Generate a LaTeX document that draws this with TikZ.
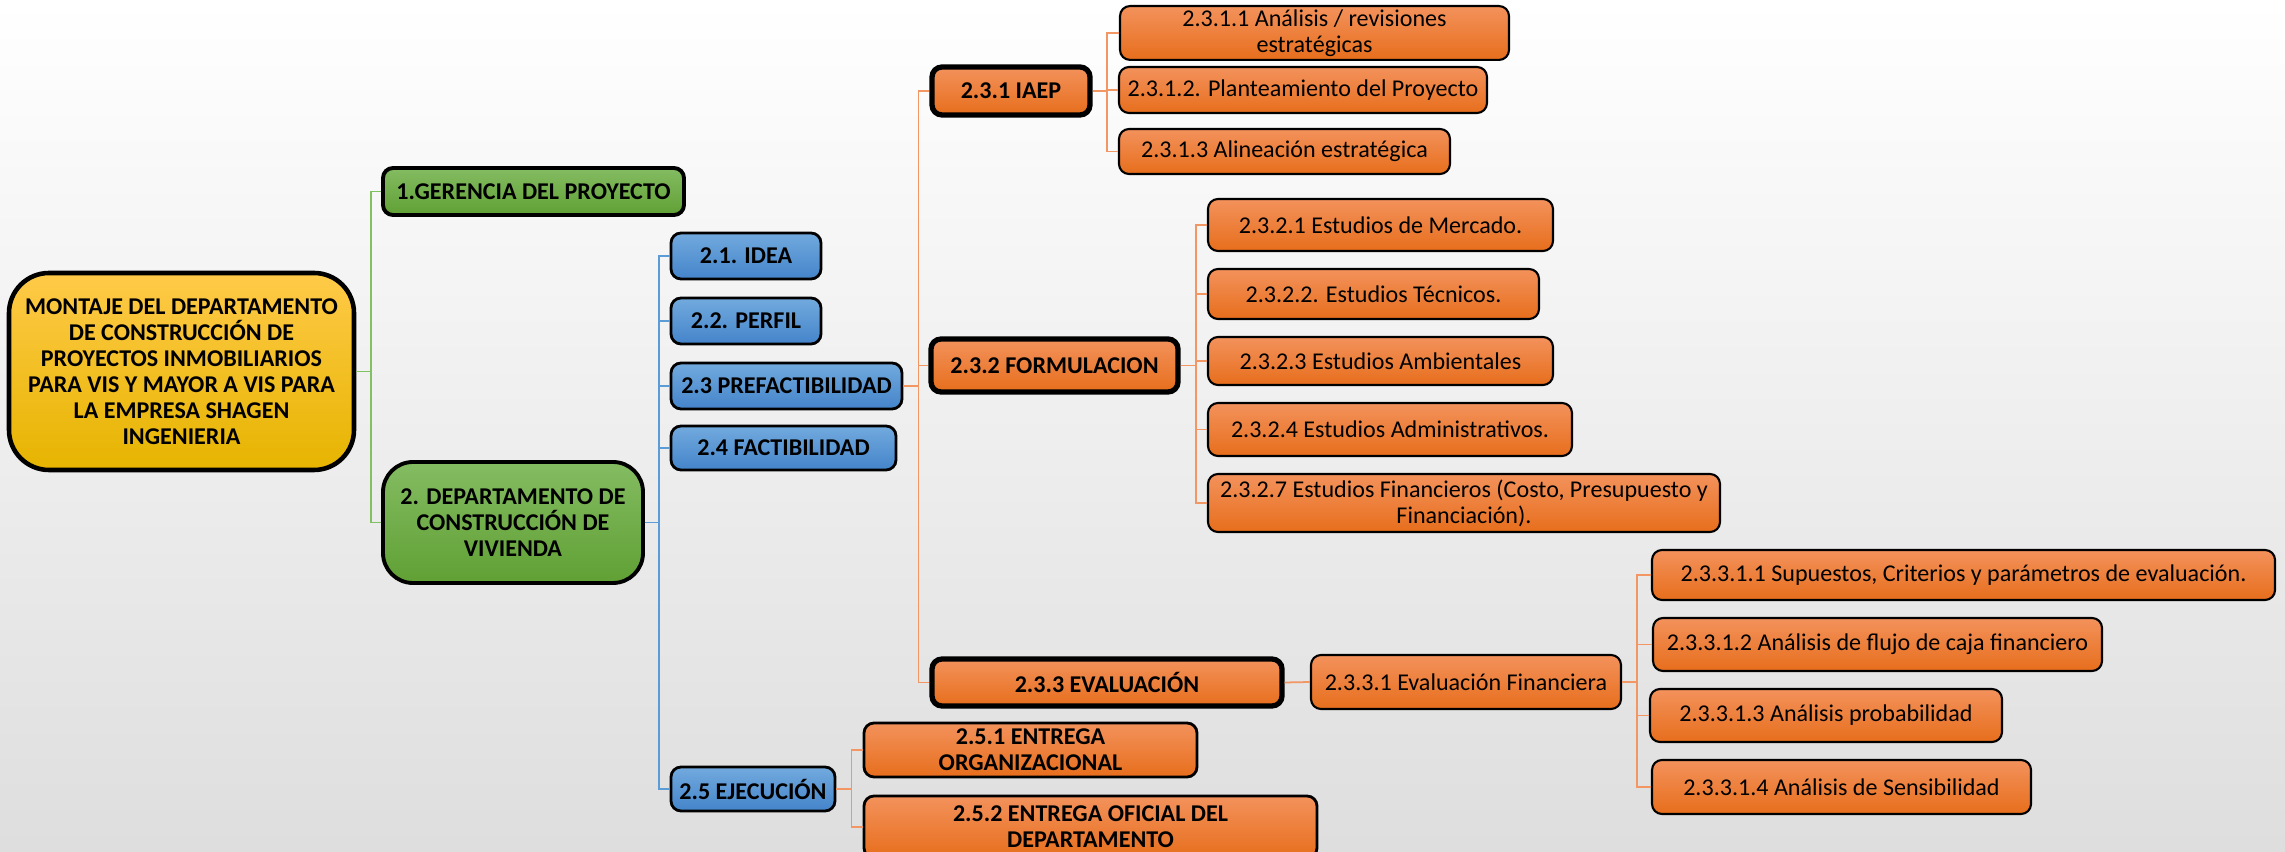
\documentclass[tikz,border=0pt]{standalone}
\usepackage{fontspec}
\setmainfont{Carlito}
\definecolor{orTop}{RGB}{243,146,92}
\definecolor{orBot}{RGB}{231,110,28}
\definecolor{blTop}{RGB}{114,170,222}
\definecolor{blBot}{RGB}{68,132,202}
\definecolor{grTop}{RGB}{132,188,98}
\definecolor{grBot}{RGB}{96,160,52}
\definecolor{yeTop}{RGB}{255,202,72}
\definecolor{yeMid}{RGB}{255,192,0}
\definecolor{yeBot}{RGB}{230,180,0}
\definecolor{grLine}{RGB}{130,192,100}
\definecolor{blLine}{RGB}{92,156,214}
\definecolor{orLine}{RGB}{242,150,100}
\begin{document}
\begin{tikzpicture}[font=\fontsize{13.7}{14.8}\selectfont]
        \tikzset{box/.style={draw=black, rounded corners=0.2cm, line width=1.2pt, align=center, inner sep=2pt},
                 orangebox/.style={box, top color=orTop, bottom color=orBot},
                 keybox/.style={orangebox, line width=3pt, font=\fontsize{13.7}{14.8}\selectfont\bfseries},
                 bluebox/.style={box, top color=blTop, bottom color=blBot, line width=1.6pt, font=\fontsize{13.7}{14.8}\selectfont\bfseries},
                 greenbox/.style={box, top color=grTop, bottom color=grBot, line width=2.2pt, font=\fontsize{13.7}{14.8}\selectfont\bfseries},
                 gline/.style={grLine, line width=1pt},
                 bline/.style={blLine, line width=1pt},
                 oline/.style={orLine, line width=1pt}}

        \useasboundingbox (0,0) rectangle (45.7,17.04);
        \fill[top color=white, bottom color=black!13] (0,0) rectangle (45.7,17.04);

        \node[box, rounded corners=0.8cm, line width=2.6pt, top color=yeTop, middle color=yeMid, bottom color=yeBot,
              minimum width=6.9cm, minimum height=3.94cm, font=\fontsize{13.7}{14.8}\selectfont\bfseries] (root) at (3.63,9.61)
              {MONTAJE DEL DEPARTAMENTO\\DE CONSTRUCCIÓN DE\\PROYECTOS INMOBILIARIOS\\PARA VIS Y MAYOR A VIS PARA\\LA EMPRESA SHAGEN\\INGENIERIA};

        \node[greenbox, minimum width=6.02cm, minimum height=0.94cm] (ger) at (10.67,13.21) {1.GERENCIA DEL PROYECTO};
        \node[greenbox, rounded corners=0.6cm, minimum width=5.2cm, minimum height=2.42cm] (dept) at (10.26,6.59)
              {2. DEPARTAMENTO DE\\CONSTRUCCIÓN DE\\VIVIENDA};

        \node[bluebox, minimum width=3.0cm, minimum height=0.92cm] (idea) at (14.92,11.92) {2.1. IDEA};
        \node[bluebox, minimum width=3.0cm, minimum height=0.92cm] (perfil) at (14.92,10.62) {2.2. PERFIL};
        \node[bluebox, minimum width=4.62cm, minimum height=0.92cm] (pref) at (15.73,9.32) {2.3 PREFACTIBILIDAD};
        \node[bluebox, minimum width=4.5cm, minimum height=0.88cm] (fact) at (15.67,8.08) {2.4 FACTIBILIDAD};
        \node[bluebox, minimum width=3.28cm, minimum height=0.88cm] (ejec) at (15.06,1.26) {2.5 EJECUCIÓN};

        % prefactibilidad
        \node[keybox, minimum width=3.16cm, minimum height=0.96cm] (iaep) at (20.22,15.22) {2.3.1 IAEP};
        \node[keybox, minimum width=4.94cm, minimum height=1.06cm] (form) at (21.09,9.73) {2.3.2 FORMULACION};
        \node[keybox, minimum width=7.0cm, minimum height=0.94cm] (eval) at (22.14,3.39) {2.3.3 EVALUACIÓN};

        \node[orangebox, minimum width=7.78cm, minimum height=1.0cm] (iaepa) at (26.29,16.38) {2.3.1.1 Análisis / revisiones\\estratégicas};
        \node[orangebox, minimum width=7.36cm, minimum height=0.92cm] (iaepb) at (26.06,15.24) {2.3.1.2. Planteamiento del Proyecto};
        \node[orangebox, minimum width=6.62cm, minimum height=0.9cm] (iaepc) at (25.69,14.01) {2.3.1.3 Alineación estratégica};

        \node[orangebox, minimum width=6.9cm, minimum height=1.04cm] (forma) at (27.61,12.54) {2.3.2.1 Estudios de Mercado.};
        \node[orangebox, minimum width=6.62cm, minimum height=1.0cm] (formb) at (27.47,11.16) {2.3.2.2. Estudios Técnicos.};
        \node[orangebox, minimum width=6.9cm, minimum height=0.96cm] (formc) at (27.61,9.82) {2.3.2.3 Estudios Ambientales};
        \node[orangebox, minimum width=7.28cm, minimum height=1.06cm] (formd) at (27.80,8.45) {2.3.2.4 Estudios Administrativos.};
        \node[orangebox, minimum width=10.24cm, minimum height=1.16cm] (forme) at (29.28,6.98) {2.3.2.7 Estudios Financieros (Costo, Presupuesto y\\Financiación).};

        \node[orangebox, minimum width=6.2cm, minimum height=1.08cm] (evfin) at (29.32,3.40) {2.3.3.1 Evaluación Financiera};
        \node[orangebox, minimum width=12.46cm, minimum height=1.0cm] (evfina) at (39.27,5.54) {2.3.3.1.1 Supuestos, Criterios y parámetros de evaluación.};
        \node[orangebox, minimum width=8.98cm, minimum height=1.06cm] (evfinb) at (37.55,4.15) {2.3.3.1.2 Análisis de flujo de caja financiero};
        \node[orangebox, minimum width=7.04cm, minimum height=1.06cm] (evfinc) at (36.52,2.73) {2.3.3.1.3 Análisis probabilidad};
        \node[orangebox, minimum width=7.58cm, minimum height=1.08cm] (evfind) at (36.83,1.30) {2.3.3.1.4 Análisis de Sensibilidad};

        % ejecucion
        \node[orangebox, line width=1.6pt, minimum width=6.66cm, minimum height=1.08cm, font=\fontsize{13.7}{14.8}\selectfont\bfseries] (entrega) at (20.61,2.04) {2.5.1 ENTREGA\\ORGANIZACIONAL};
        \node[orangebox, line width=1.6pt, minimum width=9.06cm, minimum height=1.24cm, font=\fontsize{13.7}{14.8}\selectfont\bfseries] (oficial) at (21.81,0.5) {2.5.2 ENTREGA OFICIAL DEL\\DEPARTAMENTO};

        \draw[gline] (root.east) -- ++(0.3,0) |- (ger.west);
        \draw[gline] (root.east) -- ++(0.3,0) |- (dept.west);

        \draw[bline] (dept.east) -- ++(0.28,0) |- (idea.west);
        \draw[bline] (dept.east) -- ++(0.28,0) |- (perfil.west);
        \draw[bline] (dept.east) -- ++(0.28,0) |- (pref.west);
        \draw[bline] (dept.east) -- ++(0.28,0) |- (fact.west);
        \draw[bline] (dept.east) -- ++(0.28,0) |- (ejec.west);

        \draw[oline] (pref.east) -- ++(0.3,0) |- (iaep.west);
        \draw[oline] (pref.east) -- ++(0.3,0) |- (form.west);
        \draw[oline] (pref.east) -- ++(0.3,0) |- (eval.west);

        \draw[oline] (iaep.east) -- ++(0.28,0) |- (iaepa.west);
        \draw[oline] (iaep.east) -- ++(0.28,0) |- (iaepb.west);
        \draw[oline] (iaep.east) -- ++(0.28,0) |- (iaepc.west);

        \draw[oline] (form.east) -- ++(0.3,0) |- (forma.west);
        \draw[oline] (form.east) -- ++(0.3,0) |- (formb.west);
        \draw[oline] (form.east) -- ++(0.3,0) |- (formc.west);
        \draw[oline] (form.east) -- ++(0.3,0) |- (formd.west);
        \draw[oline] (form.east) -- ++(0.3,0) |- (forme.west);

        \draw[oline] (eval.east) -- (evfin.west);
        \draw[oline] (evfin.east) -- ++(0.3,0) |- (evfina.west);
        \draw[oline] (evfin.east) -- ++(0.3,0) |- (evfinb.west);
        \draw[oline] (evfin.east) -- ++(0.3,0) |- (evfinc.west);
        \draw[oline] (evfin.east) -- ++(0.3,0) |- (evfind.west);

        \draw[oline] (ejec.east) -- ++(0.3,0) |- (entrega.west);
        \draw[oline] (ejec.east) -- ++(0.3,0) |- (oficial.west);
    \end{tikzpicture}
\end{document}
